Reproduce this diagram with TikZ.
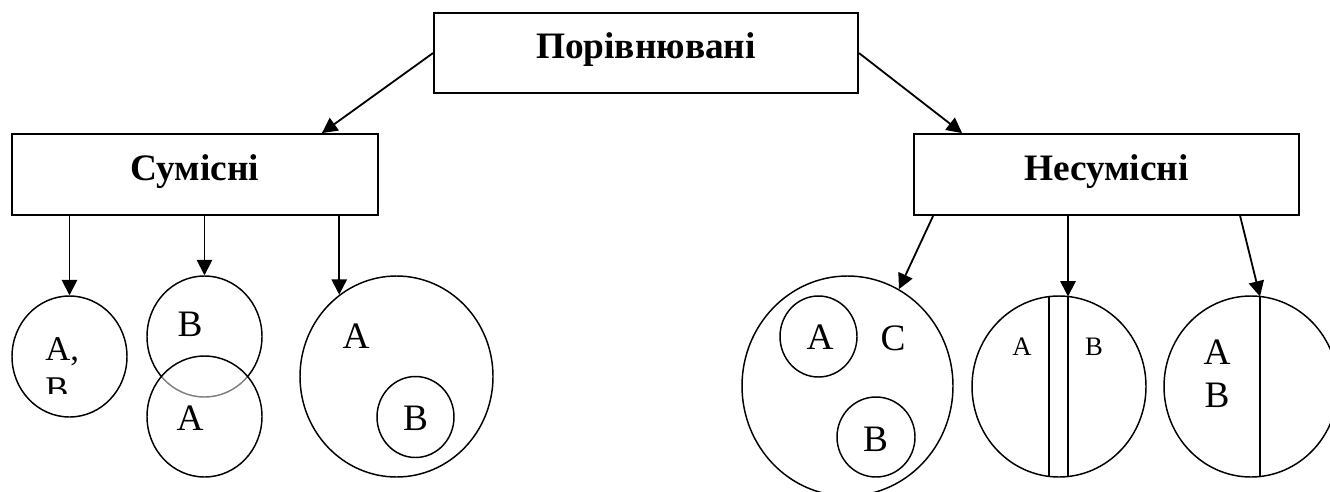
\documentclass[tikz,border=0pt]{standalone}
\usepackage{fontspec}
\setmainfont{Liberation Serif}
\usetikzlibrary{arrows.meta,shapes.geometric,calc}
\begin{document}
\begin{tikzpicture}[x=0.75pt,y=-0.75pt,
  box/.style={draw,line width=1.35pt,rectangle,inner sep=0pt,
    font=\bfseries\fontsize{28}{34}\selectfont,text height=20pt,text depth=11.5pt},
  arr/.style={line width=1.35pt,-{Triangle[length=11.5pt,width=11.5pt]}},
  circ/.style={draw,ellipse,line width=1.1pt,inner sep=0pt},
  sep/.style={line width=1.1pt},
  lbl/.style={inner sep=0pt,font=\fontsize{28}{32}\selectfont},
  sml/.style={inner sep=0pt,font=\fontsize{20}{24}\selectfont},
]
\path[use as bounding box] (0,0) rectangle (1330,492);
\clip (0,0) rectangle (1330,492);

% boxes
\node[box,minimum width=318pt,minimum height=60pt] (top) at (646,53) {Порівнювані};
\node[box,minimum width=274.5pt,minimum height=60.75pt] (sum) at (195,174.5) {Сумісні};
\node[box,minimum width=288.75pt,minimum height=60.75pt] (nes) at (1106.5,174.5) {Несумісні};

% left group
\node[circ,minimum width=86.25pt,minimum height=90.75pt] (c1) at (69.5,356.5) {};
\node[circ,minimum width=86.25pt,minimum height=90.75pt] (c2) at (204.5,336.5) {};
\node[circ,minimum width=86.25pt,minimum height=90.75pt,fill=white,fill opacity=0.5] (c3) at (204.5,416.5) {};
\node[circ,minimum width=144.75pt,minimum height=150.75pt] (c4) at (396.5,376.5) {};
\node[circ,minimum width=57.75pt,minimum height=60.75pt] (c5) at (415.5,417) {};

\begin{scope}
  \clip (0,0) rectangle (140,393);
  \node[anchor=north west,inner sep=0pt,align=left,font=\fontsize{26}{30}\selectfont] (tAB) at (45,337) {A,\\B};
\end{scope}
\node[lbl] (tB2) at (190,324) {B};
\node[lbl] (tA3) at (190,418) {A};
\node[lbl] (tA4) at (356,336) {A};
\node[lbl] (tB5) at (415.5,418) {B};

% right group
\node[circ,minimum width=158.25pt,minimum height=165pt] (e1) at (847.5,386) {};
\node[circ,minimum width=57.75pt,minimum height=60.75pt] (e1a) at (818.5,336.5) {};
\node[circ,minimum width=58.5pt,minimum height=60pt] (e1b) at (876,437) {};
\node[lbl] (tA6) at (820,337.5) {A};
\node[lbl] (tC6) at (893,338) {C};
\node[lbl] (tB6) at (875.5,439.5) {B};

\node[circ,minimum width=130.5pt,minimum height=135.75pt] (e2) at (1059,386.5) {};
\coordinate (v2at) at (1049,296.5);
\coordinate (v2ab) at (1049,476.5);
\coordinate (v2bt) at (1068,296.5);
\coordinate (v2bb) at (1068,476.5);
\draw[sep] (v2at) -- (v2ab);
\draw[sep] (v2bt) -- (v2bb);
\node[sml] (tA7) at (1022,347) {A};
\node[sml] (tB7) at (1094,347) {B};

\node[circ,minimum width=130.5pt,minimum height=135.75pt] (e3) at (1251,386.5) {};
\coordinate (v3t) at (1260,296.5);
\coordinate (v3b) at (1260,476.5);
\draw[sep] (v3t) -- (v3b);
\node[anchor=north,inner sep=0pt,align=center,font=\fontsize{28}{32.25}\selectfont] (tAB8) at (1217,340) {A\\B};

% connectors
\draw[arr] (top.west) -- ($(sum.north east)+(-57,0)$);
\draw[arr] (top.east) -- ($(nes.north west)+(49,0)$);
\draw[arr] (sum.south -| c1.north) -- (c1.north);
\draw[arr] (sum.south -| c2.north) -- (c2.north);
\draw[arr] (sum.south -| c4.125) -- (c4.125);
\draw[arr] ($(nes.south west)+(20,0)$) -- (e1.62);
\draw[arr] (nes.south -| v2bt) -- (v2bt);
\draw[arr] ($(nes.south west)+(327,0)$) -- (v3t);
\end{tikzpicture}
\end{document}
